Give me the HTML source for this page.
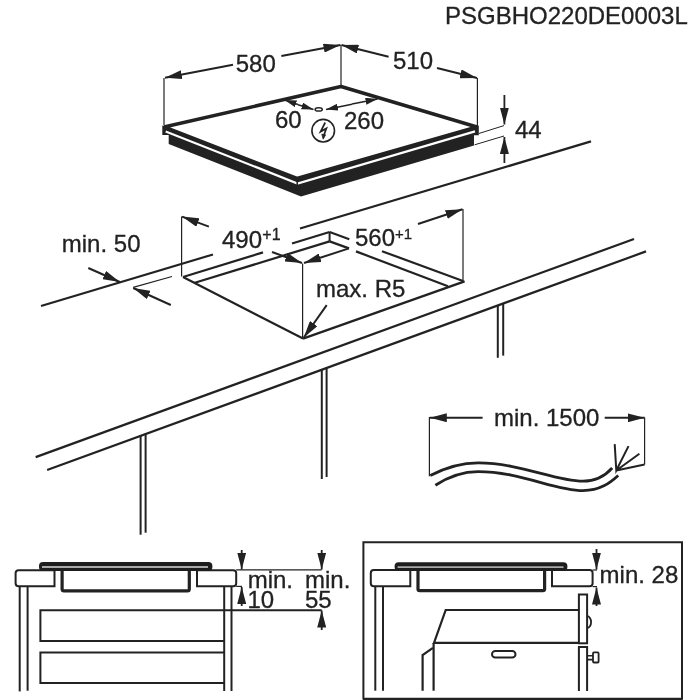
<!DOCTYPE html>
<html><head><meta charset="utf-8"><style>
html,body{margin:0;padding:0;background:#fff;width:700px;height:700px;overflow:hidden}
svg{position:absolute;left:0;top:0;will-change:transform}
text{font-family:"Liberation Sans",sans-serif;fill:#222;stroke:#222 !important;stroke-width:0.3px}
</style></head><body>
<svg width="700" height="700" viewBox="0 0 700 700">
<defs>
<marker id="ah" viewBox="0 0 17 9" refX="17" refY="4.5" markerWidth="17" markerHeight="9" markerUnits="userSpaceOnUse" orient="auto"><path d="M0,0 L17,4.5 L0,9 Z" fill="#222"/></marker>
<marker id="ahs" viewBox="0 0 12 7" refX="12" refY="3.5" markerWidth="12" markerHeight="7" markerUnits="userSpaceOnUse" orient="auto"><path d="M0,0 L12,3.5 L0,7 Z" fill="#222"/></marker>
</defs>
<g stroke="#222" fill="none" stroke-linecap="butt">
<text x="445" y="23.5" font-size="24" stroke="none">PSGBHO220DE0003L</text>

<!-- HOB TOP -->
<!-- dimension 580 -->
<line x1="164" y1="78" x2="164" y2="125" stroke-width="1.2"/>
<line x1="341" y1="45" x2="341" y2="86" stroke-width="1.2"/>
<line x1="233" y1="64.8" x2="165" y2="77.8" stroke-width="2" marker-end="url(#ah)"/>
<line x1="281.4" y1="56" x2="340.5" y2="45" stroke-width="2" marker-end="url(#ah)"/>
<text x="235.7" y="71.5" font-size="24" stroke="none">580</text>
<!-- dimension 510 -->
<line x1="388.6" y1="56.8" x2="341.5" y2="45" stroke-width="2" marker-end="url(#ah)"/>
<line x1="437" y1="68" x2="477" y2="78" stroke-width="2" marker-end="url(#ah)"/>
<line x1="477.4" y1="78" x2="477.4" y2="126" stroke-width="1.2"/>
<text x="393" y="68.6" font-size="24" stroke="none">510</text>

<!-- hob front black band -->
<path d="M162.3,125.4 L297,178 L478.8,125.4 L478.8,135.3 L474,135.3 L474,145.5 L301,196.5 L168.7,143.9 L168.7,135 L162.3,135 Z" fill="#222" stroke="none"/>
<!-- white strip -->
<polyline points="165.7,131.4 297.5,183.5 475,131.4" stroke="#fff" stroke-width="2.2"/>
<line x1="297.2" y1="180" x2="297.2" y2="186" stroke-width="1.5"/>
<!-- top glass surface -->
<path d="M164,127 L341,86.5 L477,127 L297,178.5 Z" fill="#fff" stroke-width="3.5" stroke-linejoin="bevel"/>

<!-- 60 / 260 -->
<ellipse cx="318.7" cy="109.4" rx="3.6" ry="1.7" stroke-width="1.5"/>
<line x1="298" y1="104.5" x2="284.6" y2="100.1" stroke-width="1.5" marker-end="url(#ahs)"/>
<line x1="298" y1="104.8" x2="313.5" y2="109.5" stroke-width="1.5" marker-end="url(#ahs)"/>
<line x1="352" y1="104.3" x2="326" y2="109.5" stroke-width="1.5" marker-end="url(#ahs)"/>
<line x1="352" y1="104" x2="377.5" y2="99" stroke-width="1.5" marker-end="url(#ahs)"/>
<text x="275" y="128" font-size="24" stroke="none">60</text>
<text x="344" y="128.6" font-size="24" stroke="none">260</text>
<!-- electric symbol -->
<circle cx="323.2" cy="130.7" r="11.3" stroke-width="1.6"/>
<path d="M325.2,122.5 L320.6,131.6 L326.4,128.4 L323.8,135.5" stroke-width="1.7" stroke-linejoin="miter"/>
<path d="M321.8,134.2 L323.2,139.2 L325.6,134.8 Z" fill="#222" stroke-width="0.8"/>

<!-- 44 -->
<line x1="478.8" y1="133.5" x2="504" y2="125.6" stroke-width="1"/>
<line x1="474.6" y1="144.8" x2="504" y2="136" stroke-width="1"/>
<line x1="504.4" y1="95" x2="504.4" y2="124.5" stroke-width="1.8" marker-end="url(#ah)"/>
<line x1="504.4" y1="163" x2="504.4" y2="137" stroke-width="1.8" marker-end="url(#ah)"/>
<text x="515" y="138" font-size="24" stroke="none">44</text>

<!-- COUNTERTOP + CUTOUT -->
<line x1="41" y1="306" x2="213" y2="254.5" stroke-width="2.2"/>
<line x1="300" y1="228.5" x2="591" y2="141.4" stroke-width="2.2"/>
<line x1="35.7" y1="457.1" x2="634" y2="239" stroke-width="2.2"/>
<line x1="47.1" y1="470" x2="646" y2="251.4" stroke-width="2.2"/>
<!-- legs -->
<line x1="140.6" y1="435.5" x2="140.6" y2="534.7" stroke-width="2"/>
<line x1="145.6" y1="433.6" x2="145.6" y2="532.7" stroke-width="2"/>
<line x1="321.8" y1="369.5" x2="321.8" y2="479" stroke-width="2"/>
<line x1="326.6" y1="367.8" x2="326.6" y2="477" stroke-width="2"/>
<line x1="497.8" y1="305.3" x2="497.8" y2="357.8" stroke-width="2"/>
<line x1="503.2" y1="303.3" x2="503.2" y2="355.6" stroke-width="2"/>

<!-- min 50 -->
<text x="61.8" y="251.5" font-size="24" stroke="none">min. 50</text>
<line x1="88.3" y1="268" x2="119.8" y2="282" stroke-width="2" marker-end="url(#ah)"/>
<line x1="170.8" y1="305" x2="133.2" y2="288" stroke-width="2" marker-end="url(#ah)"/>
<line x1="133.2" y1="287.4" x2="172" y2="276.5" stroke-width="1.2"/>

<!-- cutout -->
<line x1="181.6" y1="216.4" x2="181.6" y2="276.4" stroke-width="1.2"/>
<line x1="208.9" y1="226.6" x2="182" y2="216.6" stroke-width="2" marker-end="url(#ah)"/>
<text x="222" y="248" font-size="24" stroke="none">490</text>
<text x="262.3" y="239.9" font-size="16" stroke="none">+1</text>
<line x1="183" y1="277" x2="263" y2="252.4" stroke-width="2.2"/>
<line x1="292" y1="243.5" x2="329.6" y2="232" stroke-width="2.2"/>
<line x1="194" y1="283" x2="329.6" y2="241.4" stroke-width="2.2"/>
<line x1="183" y1="277" x2="303" y2="338.6" stroke-width="2.2"/>
<line x1="302.6" y1="263.6" x2="302.6" y2="338.6" stroke-width="1.2"/>
<line x1="329.6" y1="232" x2="329.6" y2="241.4" stroke-width="2"/>
<line x1="329.6" y1="232" x2="349.3" y2="239.2" stroke-width="2.2"/>
<line x1="382" y1="251.2" x2="463" y2="281" stroke-width="2.2"/>
<line x1="329.6" y1="241.4" x2="349" y2="248.4" stroke-width="2.2"/>
<line x1="356" y1="251.4" x2="448" y2="286.3" stroke-width="2.2"/>
<line x1="303" y1="338.6" x2="464.6" y2="281.4" stroke-width="2.2"/>
<line x1="463" y1="209" x2="463" y2="281" stroke-width="1.2"/>
<line x1="418" y1="224" x2="462.5" y2="209.2" stroke-width="2" marker-end="url(#ah)"/>
<line x1="349" y1="248.4" x2="304" y2="263" stroke-width="2" marker-end="url(#ah)"/>
<line x1="272" y1="252" x2="302" y2="263" stroke-width="2" marker-end="url(#ah)"/>
<text x="355" y="246" font-size="24" stroke="none">560</text>
<text x="395" y="238.5" font-size="15" stroke="none">+1</text>
<text x="316" y="296.6" font-size="24" stroke="none">max. R5</text>
<line x1="326.7" y1="305.1" x2="303.8" y2="337.5" stroke-width="2" marker-end="url(#ah)"/>

<!-- cable -->
<text x="494" y="425.7" font-size="24" stroke="none">min. 1500</text>
<line x1="429.4" y1="417.1" x2="429.4" y2="476.3" stroke-width="1.2"/>
<line x1="482.6" y1="417.7" x2="429.8" y2="417.7" stroke-width="2" marker-end="url(#ah)"/>
<line x1="604.7" y1="417.8" x2="644.6" y2="417.8" stroke-width="2" marker-end="url(#ah)"/>
<line x1="644.6" y1="417.5" x2="644.6" y2="464.4" stroke-width="1.2"/>
<path d="M430.3,475.6 C450,465.2 465,462.9 478.3,462.9 C520,462.9 555,481.2 583,481.2 C595,481.2 605,476 612.2,468" stroke-width="2.8"/>
<path d="M435.4,485.2 C452,474.5 465,471.6 478,471.6 C520,471.6 555,490.6 583,490.6 C600,490.6 610,483 618.2,475.5" stroke-width="2.8"/>
<path d="M614.7,444.1 L616.3,470.5 L628.5,446.1 M616.3,470.5 L639.4,453.8 M616.3,470.5 L644.6,464.4" stroke-width="2"/>

<!-- BOTTOM LEFT PANEL -->
<path d="M54.5,570.2 L18.6,570.2 Q15.6,570.2 15.6,573.2 L15.6,583.2 Q15.6,586.2 18.6,586.2 L54.5,586.2 Z" stroke-width="2"/>
<path d="M197,570.2 L233.2,570.2 Q236.2,570.2 236.2,573.2 L236.2,583.2 Q236.2,586.2 233.2,586.2 L197,586.2 Z" stroke-width="2"/>
<path d="M62.1,571 L62.1,589 Q62.1,590.9 64,590.9 L187.4,590.9 Q189.3,590.9 189.3,589 L189.3,571" stroke-width="3.2"/>
<rect x="39" y="562.1" width="173.4" height="8.9" rx="4" fill="#1e1e1e" stroke="none"/><line x1="42" y1="567" x2="208" y2="567" stroke="#aaa" stroke-width="1.9"/>
<line x1="19.7" y1="586" x2="19.7" y2="691.4" stroke-width="2"/>
<line x1="27.6" y1="586" x2="27.6" y2="690.7" stroke-width="2"/>
<line x1="224.2" y1="586" x2="224.2" y2="691" stroke-width="2"/>
<line x1="231.5" y1="586" x2="231.5" y2="691" stroke-width="2"/>
<path d="M224.2,641 L40.4,641 L40.4,610.3 L321.7,610.3" stroke-width="2"/>
<path d="M224.2,652.6 L40.4,652.6 L40.4,682.9 L224.2,682.9" stroke-width="2"/>

<line x1="236.2" y1="569.9" x2="321.7" y2="569.9" stroke-width="1.2"/>
<line x1="236.2" y1="586.4" x2="242" y2="586.4" stroke-width="1.2"/>
<line x1="241.7" y1="550" x2="241.7" y2="569.5" stroke-width="1.8" marker-end="url(#ah)"/>
<line x1="241.7" y1="606" x2="241.7" y2="587" stroke-width="1.8" marker-end="url(#ah)"/>
<line x1="321.7" y1="550" x2="321.7" y2="569.5" stroke-width="1.8" marker-end="url(#ah)"/>
<line x1="321.7" y1="630" x2="321.7" y2="610.5" stroke-width="1.8" marker-end="url(#ah)"/>
<text x="247.7" y="587.9" font-size="24" stroke="none">min.</text>
<text x="247.5" y="607.6" font-size="24" stroke="none">10</text>
<text x="305" y="587.9" font-size="24" stroke="none">min.</text>
<text x="305" y="607.6" font-size="24" stroke="none">55</text>

<!-- BOTTOM RIGHT PANEL -->
<path d="M363.4,699.5 L363.4,542.2 L682,542.2 L682,699.5" stroke-width="2"/>
<line x1="363" y1="699" x2="682.5" y2="699" stroke-width="2.5"/>
<path d="M410.3,570 L373.8,570 Q370.8,570 370.8,573 L370.8,583.3 Q370.8,586.3 373.8,586.3 L410.3,586.3 Z" stroke-width="2"/>
<path d="M552,570 L589.6,570 Q592.6,570 592.6,573 L592.6,583.3 Q592.6,586.3 589.6,586.3 L552,586.3 Z" stroke-width="2"/>
<path d="M418,571 L418,589 Q418,590.7 419.8,590.7 L542.8,590.7 Q544.6,590.7 544.6,589 L544.6,571" stroke-width="3.2"/>
<rect x="394.6" y="562.3" width="172.8" height="8.8" rx="4" fill="#1e1e1e" stroke="none"/><line x1="397.6" y1="567.1" x2="563.5" y2="567.1" stroke="#aaa" stroke-width="1.9"/>
<line x1="375.3" y1="586" x2="375.3" y2="690.7" stroke-width="2"/>
<line x1="383" y1="586" x2="383" y2="690.7" stroke-width="2"/>
<line x1="592.6" y1="570" x2="597" y2="570" stroke-width="1.2"/>
<line x1="592.6" y1="586.6" x2="597" y2="586.6" stroke-width="1.2"/>
<line x1="596.5" y1="549" x2="596.5" y2="569.5" stroke-width="1.8" marker-end="url(#ah)"/>
<line x1="596.5" y1="606" x2="596.5" y2="587.5" stroke-width="1.8" marker-end="url(#ah)"/>
<text x="599.6" y="582.9" font-size="24" stroke="none">min. 28</text>
<!-- oven -->
<path d="M578.9,610 L445.7,610 L434,642.9 L578.9,642.9" stroke-width="2.2"/>
<line x1="433.6" y1="643" x2="433.6" y2="690.7" stroke-width="2.2"/>
<path d="M432.9,647.9 L422.6,655 L422.6,690.7" stroke-width="2.2"/>
<rect x="578.9" y="594.5" width="8.2" height="48.8" stroke-width="2"/>
<path d="M578.9,691 L578.9,647.1 L587.1,647.1 L587.1,691" stroke-width="2"/>
<path d="M587.1,616.2 A4,5.9 0 0 1 587.1,628" stroke-width="1.8"/>
<rect x="492" y="651" width="23.5" height="6.6" rx="3.3" stroke-width="2"/>
<path d="M587.1,655.8 L593,655.8 M587.1,659.6 L593,659.6" stroke-width="1.6"/>
<rect x="593" y="652.4" width="5.6" height="10.1" rx="1" stroke-width="1.8"/>
</g>
</svg>
</body></html>
